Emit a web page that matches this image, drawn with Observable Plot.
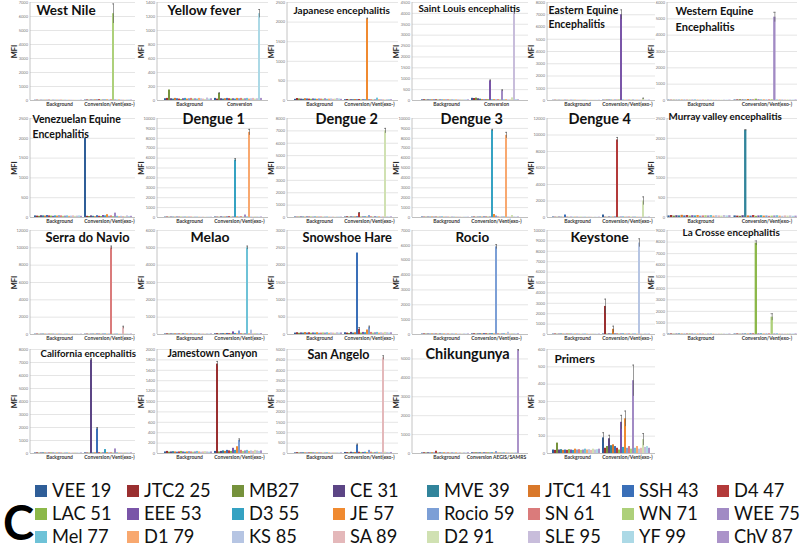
<!DOCTYPE html>
<html><head><meta charset="utf-8">
<script src="https://cdn.jsdelivr.net/npm/d3@7"></script>
<script src="https://cdn.jsdelivr.net/npm/@observablehq/plot@0.6"></script>
<style>
body{margin:0;background:#fff;width:800px;height:549px;position:relative;overflow:hidden;font-family:Lato,"Open Sans",sans-serif}
.panel{position:absolute}
.lg{position:absolute;font-size:18.3px;color:#111;white-space:nowrap;line-height:1}
.sw{position:absolute;width:12px;height:12px}
#bigC{position:absolute;left:3px;top:499px;font-size:47px;font-weight:bold;line-height:1;color:#000}
</style></head><body>
<div id="root"></div>
<script>
// ---- beads (series) ----
const beads = ["VEE 19","JTC2 25","MB27","CE 31","MVE 39","JTC1 41","SSH 43","D4 47",
               "LAC 51","EEE 53","D3 55","JE 57","Rocio 59","SN 61","WN 71","WEE 75",
               "Mel 77","D1 79","KS 85","SA 89","D2 91","SLE 95","YF 99","ChV 87"];
const beadColors = ["#2f5e98","#9a2f30","#76923c","#5c4585","#31849b","#d9782a","#3a6fb8","#b33a3a",
                    "#8cb849","#7a55a8","#35a2c2","#f08a30","#7c9fd6","#da7b7b","#add07a","#a18ac4",
                    "#6ec2d7","#f8a86f","#b6c5e3","#e4b8ba","#d0e1b2","#c8bddb","#acd9e6","#ab93c9"];

// ---- panels ----
const titles = ["West Nile","Yellow fever","Japanese encephalitis","Saint Louis encephalitis","Eastern Equine\nEncephalitis","Western Equine\nEncephalitis",
  "Venezuelan Equine\nEncephalitis","Dengue 1","Dengue 2","Dengue 3","Dengue 4","Murray valley encephalitis",
  "Serra do Navio","Melao","Snowshoe Hare","Rocio","Keystone","La Crosse encephalitis",
  "California encephalitis","Jamestown Canyon","San Angelo","Chikungunya","Primers"];
const groupLabels = ["Background","Conversion/Vent(exo-)","Conversion","Conversion AEGIS/SAMRS"];
const convLabelIdx = [1,2,1,2,1,1, 1,1,1,1,1,1, 1,1,1,1,1,1, 1,1,1,3,1];
const yMax  = [7000,1400,2500,4500,8000,6000, 2500,10000,8000,10000,12000,2500, 12000,6000,3000,7000,10000,9000, 8000,2000,5000,5500,600];
const yStep = [1000,200,500,500,1000,1000, 500,1000,1000,1000,2000,500, 2000,1000,500,1000,1000,1000, 1000,200,500,1000,100];

// ---- values (MFI), order = beads ----
const wnBg  = [20,25,15,20,18,22,20,25,15,20,18,20,22,25,20,18,15,20,22,18,20,15,18,20];
const wnCv  = [30,40,25,35,30,45,40,60,30,35,40,45,30,50,6200,40,30,45,35,30,25,30,35,30];
const wnEr  = [0,0,0,0,0,0,0,0,0,0,0,0,0,0,700,0,0,0,0,0,0,0,0,0];
const yfBg  = [25,30,150,25,20,30,25,20,15,25,30,20,25,30,20,25,20,30,25,20,15,35,20,25];
const yfCv  = [30,20,100,25,20,25,30,25,20,25,20,30,25,30,20,25,30,20,25,30,20,25,1240,30];
const yfEr  = [0,0,10,0,0,0,0,0,0,0,0,0,0,0,0,0,0,0,0,0,0,0,60,0];
const jeBg  = [30,50,40,35,30,45,40,35,30,40,35,30,40,35,30,45,30,35,40,30,35,50,40,30];
const jeCv  = [20,25,15,20,20,25,20,25,15,20,20,2080,25,20,15,20,60,20,25,20,15,20,25,20];
const jeEr  = [0,0,0,0,0,0,0,0,0,0,0,20,0,0,0,0,0,0,0,0,0,0,0,0];
const sleBg = [30,35,25,30,28,32,30,35,25,30,28,30,32,35,30,28,25,30,32,28,30,25,28,30];
const sleCv = [100,90,110,80,60,40,30,30,40,900,30,40,30,40,30,450,30,40,30,30,120,4100,40,30];
const sleEr = [0,0,0,0,0,0,0,0,0,40,0,0,0,0,0,40,0,0,0,0,0,150,0,0];
const eeeBg = [20,25,20,22,18,20,25,20,18,22,20,25,20,18,22,20,25,20,18,20,22,20,18,20];
const eeeCv = [30,25,40,35,30,25,30,25,40,7000,30,25,30,35,30,40,25,30,35,30,150,30,25,30];
const eeeEr = [0,0,0,0,0,0,0,0,0,400,0,0,0,0,0,0,0,0,0,0,40,0,0,0];
const weeBg = [25,20,22,18,20,25,20,18,22,20,25,20,18,22,20,25,20,18,22,20,18,25,20,22];
const weeCv = [30,40,50,35,30,60,40,30,80,40,30,35,30,40,50,5100,30,35,40,30,35,30,25,30];
const weeEr = [0,0,0,0,0,0,0,0,0,0,0,0,0,0,0,300,0,0,0,0,0,0,0,0];
const veeBg = [40,35,30,45,40,35,50,40,35,30,40,35,45,40,30,35,40,30,35,40,30,35,40,30];
const veeCv = [2000,30,25,40,30,20,45,30,25,50,40,70,30,40,25,110,30,20,30,25,20,40,25,30];
const veeEr = [0,0,0,0,0,0,0,0,0,0,0,0,0,0,0,0,0,0,0,0,0,0,0,0];
const d1Bg  = [40,50,30,45,40,35,50,40,35,30,40,35,45,40,30,35,40,30,35,40,30,35,40,30];
const d1Cv  = [50,40,30,60,40,50,60,80,40,50,5800,60,50,80,40,250,60,8600,50,40,60,50,40,50];
const d1Er  = [0,0,0,0,0,0,0,0,0,0,150,0,0,0,0,0,0,300,0,0,0,0,0,0];
const d2Bg  = [40,30,35,45,40,30,50,40,35,30,45,35,40,40,30,35,45,30,35,40,30,35,40,30];
const d2Cv  = [40,60,30,50,40,50,60,350,40,50,60,40,150,60,40,80,50,60,40,50,7000,50,40,50];
const d2Er  = [0,0,0,0,0,0,0,50,0,0,0,0,0,0,0,0,0,0,0,0,200,0,0,0];
const d3Bg  = [50,40,35,45,40,50,40,45,35,40,50,35,45,40,30,45,40,35,45,40,30,35,40,30];
const d3Cv  = [40,50,30,40,50,40,60,50,40,50,8800,300,150,60,40,50,60,8300,50,40,200,50,40,50];
const d3Er  = [0,0,0,0,0,0,0,0,0,0,100,0,0,0,0,0,0,300,0,0,0,0,0,0];
const d4Bg  = [60,40,30,50,40,30,300,40,30,40,30,40,50,30,40,30,40,30,50,40,30,40,30,40];
const d4Cv  = [300,40,30,60,40,50,60,9400,40,50,60,40,50,60,40,50,60,40,50,40,2000,50,40,50];
const d4Er  = [0,0,0,0,0,0,0,300,0,0,0,0,0,0,0,0,0,0,0,0,500,0,0,0];
const mveBg = [40,50,35,45,40,55,40,50,35,45,40,50,35,40,45,40,50,35,45,40,35,50,40,45];
const mveCv = [40,35,30,45,2200,40,35,50,30,40,45,35,40,30,35,40,45,35,30,40,35,40,30,35];
const mveEr = [0,0,0,0,20,0,0,0,0,0,0,0,0,0,0,0,0,0,0,0,0,0,0,0];
const snBg  = [40,50,30,40,50,40,30,40,50,40,30,40,50,40,30,40,50,40,30,40,50,40,30,40];
const snCv  = [40,50,30,40,50,40,60,50,40,50,60,40,50,10000,40,50,60,40,50,800,60,50,40,50];
const snEr  = [0,0,0,0,0,0,0,0,0,0,0,0,0,200,0,0,0,0,0,150,0,0,0,0];
const melBg = [30,40,30,35,30,40,30,35,30,40,30,35,30,40,30,35,30,40,30,35,30,40,30,35];
const melCv = [40,50,30,40,50,40,60,50,40,150,60,40,200,50,40,50,5000,40,250,40,60,50,40,50];
const melEr = [0,0,0,0,0,0,0,0,0,0,0,0,0,0,0,0,100,0,0,0,0,0,0,0];
const sshBg = [40,50,35,45,40,55,40,50,35,45,40,50,35,40,45,40,50,35,45,40,35,50,40,45];
const sshCv = [50,40,30,60,40,50,2350,150,40,60,50,130,200,60,40,50,60,40,50,40,60,50,40,50];
const sshEr = [0,0,0,0,0,0,0,50,0,0,0,0,40,0,0,0,0,0,0,0,0,0,0,0];
const rocBg = [30,40,30,35,30,40,30,35,30,40,30,35,30,40,30,35,30,40,30,35,30,40,30,35];
const rocCv = [40,50,30,40,50,40,60,50,40,50,60,40,5900,50,40,50,60,40,150,40,60,50,40,50];
const rocEr = [0,0,0,0,0,0,0,0,0,0,0,0,150,0,0,0,0,0,0,0,0,0,0,0];
const ksBg  = [40,50,30,40,50,40,30,40,50,40,30,40,50,40,30,40,50,40,30,40,50,40,30,40];
const ksCv  = [50,2700,40,60,50,500,60,50,40,50,60,40,50,60,40,50,60,40,8800,50,40,60,50,40];
const ksEr  = [0,700,0,0,0,300,0,0,0,0,0,0,0,0,0,0,0,0,400,0,0,0,0,0];
const lacBg = [40,50,30,40,50,40,30,40,50,40,30,40,50,40,30,40,50,40,30,40,50,40,30,40];
const lacCv = [40,50,30,40,50,40,60,50,7900,50,60,40,50,60,1500,50,60,40,50,40,60,50,40,50];
const lacEr = [0,0,0,0,0,0,0,0,200,0,0,0,0,0,300,0,0,0,0,0,0,0,0,0];
const ceBg  = [40,50,30,40,50,40,30,40,50,40,30,40,50,40,30,40,50,40,30,40,50,40,30,40];
const ceCv  = [50,40,30,7200,40,50,1900,60,40,50,300,60,50,60,40,350,60,40,50,40,60,50,40,50];
const ceEr  = [0,0,0,100,0,0,100,0,0,0,0,0,0,0,0,0,0,0,0,0,0,0,0,0];
const jtcBg = [30,40,25,30,35,30,25,30,40,30,25,30,35,30,25,30,40,30,25,30,35,30,25,30];
const jtcCv = [40,1720,30,40,50,40,60,50,40,100,60,130,250,60,40,50,60,40,50,40,60,50,40,50];
const jtcEr = [0,50,0,0,0,0,0,0,0,0,0,0,30,0,0,0,0,0,0,0,0,0,0,0];
const saBg  = [30,40,25,30,35,30,25,30,40,30,25,30,35,30,25,30,40,30,25,30,35,30,25,30];
const saCv  = [50,40,30,60,40,50,400,60,40,50,60,40,150,60,40,50,60,40,50,4600,60,50,40,50];
const saEr  = [0,0,0,0,0,0,50,0,0,0,0,0,0,0,0,0,0,0,0,100,0,0,0,0];
const chvBg = [30,40,30,40,30,40,30,120,30,40,30,40,30,40,30,40,30,40,30,40,30,40,30,40];
const chvCv = [40,30,40,30,40,30,40,30,40,30,40,30,100,30,40,30,40,30,40,30,40,30,40,5450];
const chvEr = [0,0,0,0,0,0,0,0,0,0,0,0,0,0,0,0,0,0,0,0,0,0,0,50];
const prBg  = [20,18,60,20,22,18,20,18,22,20,18,25,20,22,18,20,25,20,22,18,25,20,22,25];
const prCv  = [90,30,40,85,45,50,40,30,20,180,35,200,30,40,25,420,30,40,25,30,80,35,40,30];
const prEr  = [30,0,0,20,0,0,0,0,0,40,0,45,0,0,0,90,0,0,0,0,35,0,0,0];

const bgVals = [wnBg,yfBg,jeBg,sleBg,eeeBg,weeBg,veeBg,d1Bg,d2Bg,d3Bg,d4Bg,mveBg,snBg,melBg,sshBg,rocBg,ksBg,lacBg,ceBg,jtcBg,saBg,chvBg,prBg];
const cvVals = [wnCv,yfCv,jeCv,sleCv,eeeCv,weeCv,veeCv,d1Cv,d2Cv,d3Cv,d4Cv,mveCv,snCv,melCv,sshCv,rocCv,ksCv,lacCv,ceCv,jtcCv,saCv,chvCv,prCv];
const erVals = [wnEr,yfEr,jeEr,sleEr,eeeEr,weeEr,veeEr,d1Er,d2Er,d3Er,d4Er,mveEr,snEr,melEr,sshEr,rocEr,ksEr,lacEr,ceEr,jtcEr,saEr,chvEr,prEr];

// ---- layout (styles only) ----
const colBox = [[30,135],[157,268],[287,398],[412,528],[547,655],[667,797]];
const rowBox = [[2,100],[118,217],[230,334],[349,453]];
// title: [left x, cap-top y, font size, line height]
const titleStyle = [
  [36,5,13.5,1],[167,5,13.5,1],[293,6,10,1],[418,5,9.8,1],[548,3,10.5,1.35],[675,4,11,1.4],
  [32,112,10.5,1.4],[182,113,14.5,1],[315,113,14.5,1],[440,113,14.5,1],[568,113,14.5,1],[668,113,9.8,1],
  [45,232,12.8,1],[190,232,14,1],[302,232,12.8,1],[455,232,13.5,1],[570,232,14,1],[682,228,9.9,1],
  [40,350,9.7,1],[167,349,10.4,1],[307,350,12.5,1],[425,348,14.5,1],[554,354,11.8,1]
];

const root = document.getElementById("root");
const domain = [...beads.map((_, j) => "B" + j), "gap", ...beads.map((_, j) => "C" + j)];

titles.forEach((title, i) => {
  const col = i % 6, row = Math.floor(i / 6);
  const [pl, pr] = colBox[col], [pt, pb] = rowBox[row];
  const mt = Math.min(4, pt), ml = 28, mr = 3, mb = 10;
  const left = pl - ml, top = pt - mt;
  const width = pr - left + mr, height = mt + (pb - pt) + mb;
  const data = [
    ...bgVals[i].map((v, j) => ({key: "B" + j, bead: beads[j], value: v})),
    ...cvVals[i].map((v, j) => ({key: "C" + j, bead: beads[j], value: v}))
  ];
  const errs = cvVals[i].map((v, j) => ({key: "C" + j, value: v, err: erVals[i][j]})).filter(d => d.err > 0);
  const ticks = d3.range(0, yMax[i] + 1, yStep[i]);
  const conv = groupLabels[convLabelIdx[i]];
  const [tx, ty, fs, lh] = titleStyle[i];
  const plot = Plot.plot({
    width, height,
    marginLeft: ml, marginRight: mr, marginTop: mt, marginBottom: mb,
    style: {background: "transparent", overflow: "visible", fontFamily: "Lato, 'Open Sans', sans-serif"},
    x: {type: "band", domain, padding: 0.12},
    y: {domain: [0, yMax[i]]},
    color: {domain: beads, range: beadColors},
    marks: [
      Plot.gridY(ticks, {stroke: "#d3d3d3", strokeOpacity: 1, strokeWidth: 0.6}),
      Plot.axisY(ticks, {tickSize: 0, tickPadding: 2.5, fontSize: 4, fill: "#777", label: null, tickFormat: d3.format("d")}),
      Plot.axisX(["B12", "C12"], {tickSize: 0, tickPadding: 2, fontSize: 5, fontWeight: "bold", fill: "#333", label: null,
        tickFormat: k => k[0] === "B" ? groupLabels[0] : conv}),
      Plot.barY(data, {x: "key", y: "value", fill: "bead"}),
      Plot.ruleX(errs, {x: "key", y1: d => d.value - d.err, y2: d => d.value + d.err, stroke: "#555", strokeWidth: 0.6}),
      Plot.tickY(errs, {x: "key", y: d => d.value + d.err, stroke: "#555", strokeWidth: 0.6}),
      Plot.ruleY([0], {stroke: "#b5b5b5", strokeWidth: 0.8}),
      Plot.text(["MFI"], {frameAnchor: "left", rotate: -90, dx: -16, textAnchor: "middle", lineAnchor: "middle",
        fontWeight: "bold", fontSize: 7.5, fill: "#222"}),
      Plot.text([title], {frameAnchor: "top-left", textAnchor: "start", lineAnchor: "top",
        dx: tx - pl, dy: ty - pt, fontSize: fs, fontWeight: "bold", lineHeight: lh, fill: "#111"})
    ]
  });
  // left axis line of the frame
  d3.select(plot).append("line")
    .attr("x1", ml).attr("x2", ml).attr("y1", mt).attr("y2", height - mb)
    .attr("stroke", "#b5b5b5").attr("stroke-width", 0.8);
  const wrap = document.createElement("div");
  wrap.className = "panel";
  wrap.style.left = left + "px";
  wrap.style.top = top + "px";
  wrap.appendChild(plot);
  root.appendChild(wrap);
});

// ---- legend ----
const legendX = [35, 127, 232, 333, 427, 528, 622, 717];
const legendY = [491, 514, 537];
beads.forEach((b, i) => {
  const c = i % 8, r = Math.floor(i / 8);
  const sw = document.createElement("div");
  sw.className = "sw";
  sw.style.left = legendX[c] + "px";
  sw.style.top = (legendY[r] - 6) + "px";
  sw.style.background = beadColors[i];
  root.appendChild(sw);
  const t = document.createElement("div");
  t.className = "lg";
  t.textContent = b;
  t.style.left = (legendX[c] + 17) + "px";
  t.style.top = (legendY[r] - 10) + "px";
  root.appendChild(t);
});
const bigC = document.createElement("div");
bigC.id = "bigC";
bigC.textContent = "C";
root.appendChild(bigC);
</script>
</body></html>
